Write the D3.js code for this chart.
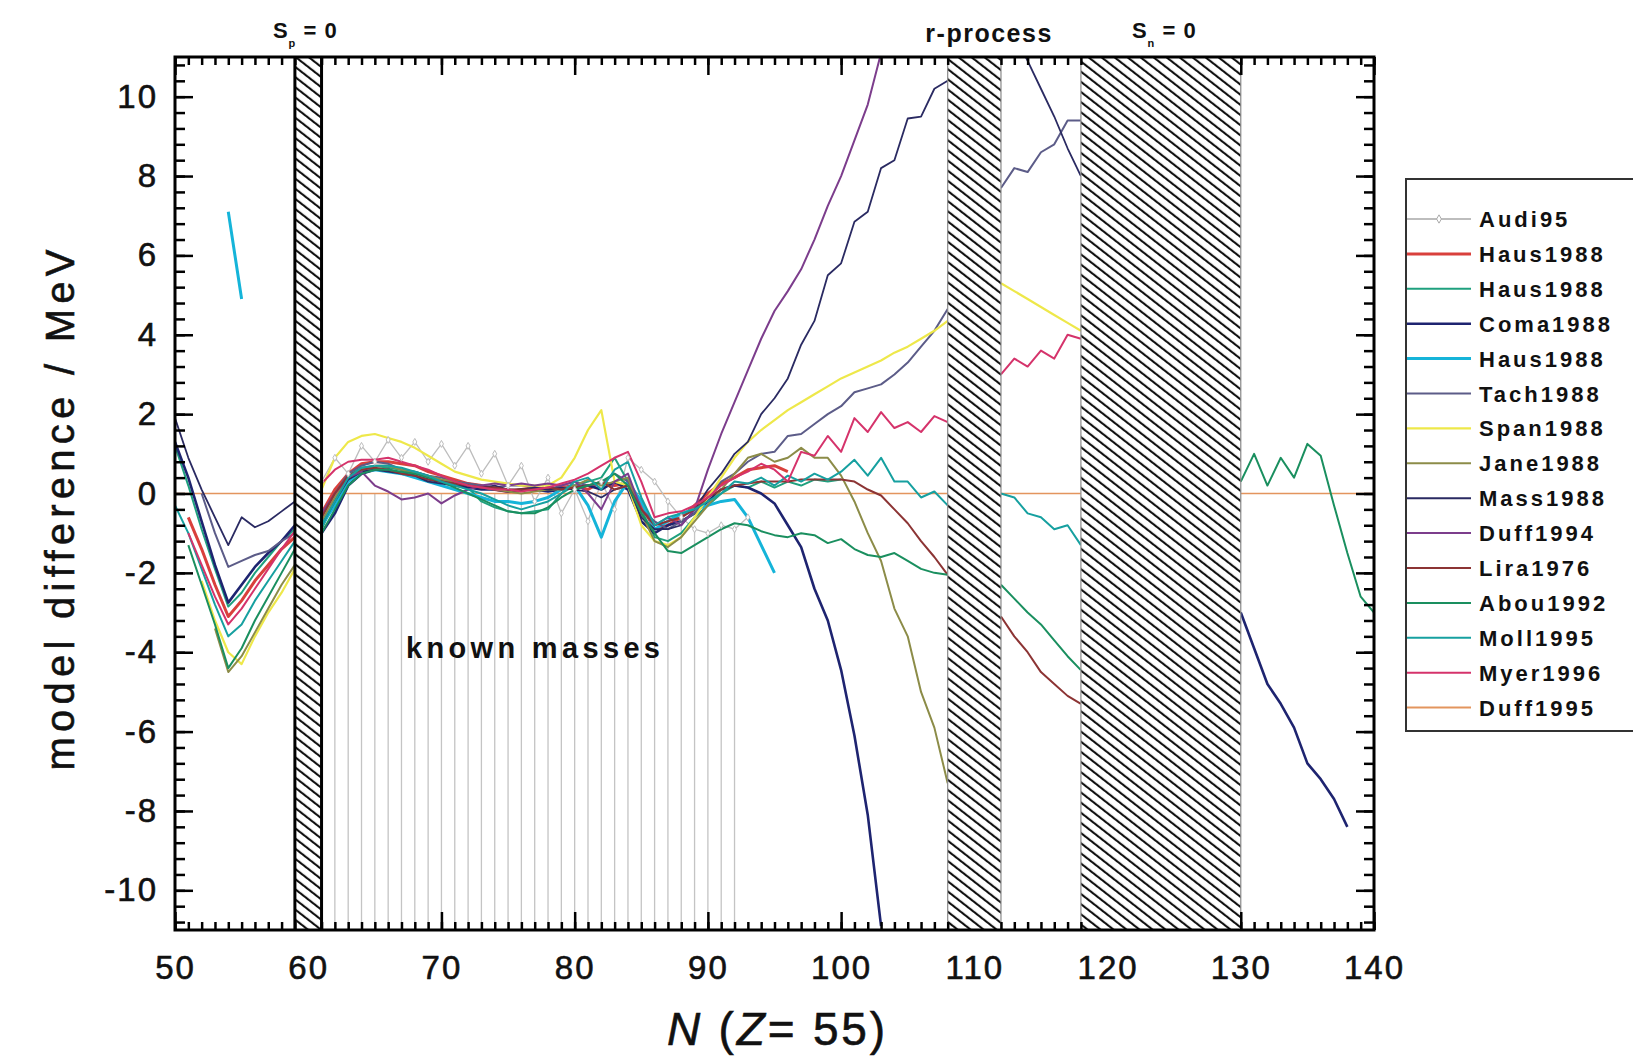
<!DOCTYPE html>
<html>
<head>
	<meta charset="utf-8" />
	<title>Model mass differences, Z = 55</title>
	<script src="https://d3js.org/d3.v7.min.js"></script>
	<style type="text/css">
		body { margin: 0; background: #fff; }
		svg text { font-family: "Liberation Sans", Arial, sans-serif; fill: #111; }
	</style>
</head>
<body>
	<div id="chart"></div>
	<script>
		// tick labels
		const xTicks = [50, 60, 70, 80, 90, 100, 110, 120, 130, 140];
		const yTicks = [-10, -8, -6, -4, -2, 0, 2, 4, 6, 8, 10];

		// N ranges outside the hatched bands, and the bands themselves
		const openRanges = [[50, 59], [61, 108], [112, 118], [130, 140]];
		const hatchRanges = [[59, 61], [108, 112], [118, 130]];

		// nuclei with known masses (drop lines)
		const knownN = [61, 62, 63, 64, 65, 66, 67, 68, 69, 70, 71, 72, 73, 74, 75, 76,
			77, 78, 79, 80, 81, 82, 83, 84, 85, 86, 87, 88, 89, 90, 91, 92];

		// legend
		const names = ["Audi95", "Haus1988", "Haus1988", "Coma1988", "Haus1988", "Tach1988", "Span1988",
			"Jane1988", "Mass1988", "Duff1994", "Lira1976", "Abou1992", "Moll1995", "Myer1996", "Duff1995"];
		const colors = ["#bdbdbd", "#d9403c", "#1fa07e", "#1e2470", "#15b4d9", "#5c5c88", "#eee84a",
			"#8c8c48", "#2a2a62", "#7c3d8c", "#8c3434", "#1a8f5f", "#16a0a0", "#d5336b", "#e3955e"];
		const widths = [1.3, 3, 2, 2.6, 3, 2, 2.2, 2, 1.8, 2, 2, 2, 2, 2, 1.5];

		// each model: segments of [first N, values for N, N+1, ...]  (MeV)
		const audi95 = [[61, [0.3, 0.9, 0.5, 1.2, 0.8, 1.35, 0.9, 1.3, 0.8, 1.25, 0.7, 1.2, 0.5, 1.0, 0.2, 0.7,
			-0.2, 0.4, -0.5, 0.1, -0.7, 0.3, -0.4, 0.9, 0.6, 0.3, -0.2, -0.6, -0.9, -1.0, -0.8, -0.9, -0.6]]];

		const haus88a = [[51, [-0.6, -1.4, -2.3, -3.1, -2.7, -2.2, -1.8, -1.4, -1.1]],
			[61, [-0.5, 0.1, 0.5, 0.75, 0.8, 0.8, 0.75, 0.7, 0.55, 0.45, 0.35, 0.25, 0.2, 0.1, 0.05, 0.1,
				0.15, 0.1, 0.15, 0.2, 0.1, 0.3, 0.2, 0.25, -0.3, -0.9, -0.8, -0.6, -0.3, 0.0, 0.25, 0.4,
				0.6, 0.65, 0.7, 0.55]]];

		const haus88b = [[50, [1.2, 0.2, -0.9, -1.9, -2.85, -2.5, -2.0, -1.6, -1.2, -0.9]],
			[61, [-0.9, -0.2, 0.45, 0.65, 0.7, 0.65, 0.6, 0.55, 0.45, 0.35, 0.25, 0.15, -0.2, -0.35, -0.45, -0.5,
				-0.45, -0.4, 0.0, 0.2, 0.3, 0.4, 0.9, 0.3, -0.4, -1.1, -1.2, -1.0, -0.6, -0.3, 0.0, 0.2,
				0.15, 0.3, 0.15, 0.3, 0.2, 0.35, 0.3, 0.35]]];

		const coma1988 = [[50, [1.3, 0.4, -0.7, -1.8, -2.75, -2.3, -1.85, -1.5, -1.2, -0.8]],
			[61, [-1.0, -0.5, 0.2, 0.5, 0.6, 0.6, 0.5, 0.45, 0.35, 0.3, 0.2, 0.15, 0.1, 0.1, 0.05, 0.1,
				0.1, 0.05, 0.1, 0.15, 0.2, 0.1, 0.3, 0.1, -0.7, -1.0, -0.8, -0.7, -0.5, -0.2, 0.1, 0.2,
				0.15, 0.0, -0.25, -0.8, -1.35, -2.4, -3.2, -4.45, -6.1, -8.1, -10.9]],
			[130, [-3.0, -3.9, -4.8, -5.3, -5.9, -6.8, -7.2, -7.7, -8.4]]];

		const haus88c = [[54, [7.1, 4.9]],
			[61, [-0.8, -0.3, 0.3, 0.55, 0.6, 0.55, 0.5, 0.4, 0.3, 0.2, 0.1, 0.0, -0.1, -0.2, -0.2, -0.25,
				-0.2, -0.1, 0.1, 0.2, -0.3, -1.1, -0.2, 0.3, -0.2, -0.9, -0.7, -0.5, -0.4, -0.3, -0.2, -0.15,
				-0.6, -1.3, -2.0]]];

		const tach1988 = [[52, [0.0, -1.0, -1.85, -1.7, -1.55, -1.45, -1.2, -1.0]],
			[61, [-0.6, 0.0, 0.5, 0.7, 0.8, 0.75, 0.6, 0.55, 0.45, 0.4, 0.3, 0.25, 0.2, 0.15, 0.2, 0.2,
				0.15, 0.1, 0.2, 0.3, 0.2, 0.25, 0.5, 0.3, -0.4, -0.7, -0.9, -0.7, -0.5, -0.1, 0.3, 0.5,
				0.8, 1.0, 1.05, 1.45, 1.5, 1.75, 2.0, 2.2, 2.55, 2.65, 2.75, 3.0, 3.3, 3.7, 4.1, 4.65]],
			[112, [7.7, 8.2, 8.1, 8.6, 8.8, 9.4, 9.4]]];

		const span1988 = [[52, [-2.2, -3.2, -4.0, -4.3, -3.6, -3.0, -2.5, -1.9]],
			[61, [0.1, 0.9, 1.3, 1.45, 1.5, 1.4, 1.3, 1.15, 0.95, 0.75, 0.55, 0.45, 0.35, 0.3, 0.25, 0.2,
				0.2, 0.2, 0.4, 0.9, 1.6, 2.1, 0.3, 0.2, -0.8, -1.2, -1.3, -1.1, -0.6, -0.1, 0.4, 0.9,
				1.3, 1.6, 1.85, 2.1, 2.3, 2.5, 2.7, 2.9, 3.05, 3.2, 3.35, 3.55, 3.7, 3.9, 4.1, 4.35]],
			[112, [5.3, 5.1, 4.9, 4.7, 4.5, 4.3, 4.1]]];

		const jane1988 = [[53, [-3.4, -4.5, -4.1, -3.5, -2.9, -2.3, -1.8]],
			[61, [-0.7, -0.1, 0.4, 0.6, 0.7, 0.7, 0.6, 0.5, 0.45, 0.35, 0.3, 0.2, 0.15, 0.1, 0.05, 0.0,
				0.05, 0.1, 0.1, 0.2, 0.35, 0.2, 0.3, 0.4, -0.5, -1.2, -1.35, -1.1, -0.7, -0.3, 0.1, 0.5,
				0.9, 1.0, 0.8, 0.9, 1.15, 0.9, 0.9, 0.45, -0.2, -1.0, -1.7, -2.9, -3.6, -5.0, -5.9, -7.3]]];

		const mass1988 = [[50, [1.9, 0.9, 0.1, -0.6, -1.3, -0.6, -0.85, -0.7, -0.45, -0.2]],
			[61, [-0.8, -0.2, 0.35, 0.55, 0.6, 0.55, 0.5, 0.45, 0.3, 0.25, 0.2, 0.2, 0.15, 0.2, 0.1, 0.1,
				0.15, 0.1, 0.15, 0.1, 0.05, -0.1, 0.1, 0.2, -0.6, -0.9, -0.9, -0.8, -0.4, 0.1, 0.5, 1.0,
				1.3, 2.0, 2.4, 2.9, 3.75, 4.35, 5.5, 5.8, 6.85, 7.1, 8.2, 8.4, 9.45, 9.5, 10.2, 10.4]],
			[112, [12.4, 11.6, 10.9, 10.2, 9.5, 8.7, 8.0]]];

		const duff1994 = [[61, [-0.5, 0.0, 0.4, 0.55, 0.2, 0.05, -0.15, -0.1, 0.0, -0.25, -0.05, 0.1, 0.2, 0.25, 0.2, 0.25,
			0.2, 0.25, 0.2, 0.3, 0.0, -0.4, 0.3, 0.5, -0.4, -0.8, -0.6, -0.8, -0.4, 0.6, 1.5, 2.3,
			3.1, 3.9, 4.6, 5.1, 5.65, 6.4, 7.25, 8.0, 8.9, 9.8, 11.1]]];

		const lira1976 = [[61, [-0.6, 0.0, 0.45, 0.6, 0.65, 0.6, 0.5, 0.45, 0.35, 0.3, 0.25, 0.2, 0.15, 0.15, 0.1, 0.1,
			0.1, 0.15, 0.1, 0.15, 0.2, 0.3, 0.1, 0.2, -0.4, -0.8, -0.7, -0.6, -0.4, -0.1, 0.1, 0.2,
			0.25, 0.3, 0.3, 0.3, 0.35, 0.35, 0.35, 0.35, 0.3, 0.1, -0.05, -0.4, -0.75, -1.2, -1.6, -2.05]],
			[112, [-3.1, -3.6, -4.0, -4.5, -4.8, -5.1, -5.3]]];

		const abou1992 = [[51, [-1.3, -2.3, -3.3, -4.4, -3.9, -3.2, -2.6, -2.0, -1.4]],
			[61, [-1.0, -0.4, 0.2, 0.5, 0.6, 0.6, 0.55, 0.5, 0.4, 0.3, 0.15, 0.0, -0.15, -0.3, -0.45, -0.5,
				-0.5, -0.35, -0.1, 0.1, 0.2, 0.3, 0.5, 0.2, -0.5, -1.0, -1.45, -1.5, -1.3, -1.1, -0.9, -0.75,
				-0.8, -0.95, -1.05, -1.1, -1.0, -1.05, -1.25, -1.15, -1.4, -1.55, -1.6, -1.5, -1.7, -1.9, -2.0, -2.05]],
			[112, [-2.3, -2.65, -3.0, -3.3, -3.7, -4.1, -4.45]],
			[130, [0.3, 1.0, 0.2, 0.9, 0.4, 1.25, 0.95, -0.3, -1.5, -2.6, -3.0]]];

		const moll1995 = [[50, [-0.3, -1.0, -1.9, -2.8, -3.6, -3.3, -2.7, -2.2, -1.7, -1.2]],
			[61, [-0.8, -0.2, 0.4, 0.65, 0.7, 0.7, 0.65, 0.55, 0.45, 0.3, 0.2, 0.1, 0.0, -0.15, -0.3, -0.4,
				-0.3, -0.2, 0.0, 0.3, 0.4, 0.1, 0.6, 0.8, -0.1, -0.8, -0.6, -0.5, -0.4, -0.2, 0.0, 0.3,
				0.25, 0.4, 0.2, 0.45, 0.3, 0.5, 0.35, 0.55, 0.85, 0.45, 0.9, 0.3, 0.3, -0.1, 0.05, -0.3]],
			[112, [0.0, -0.1, -0.5, -0.6, -0.9, -0.8, -1.3]]];

		const myer1996 = [[51, [-1.0, -1.8, -2.6, -3.3, -2.9, -2.4, -1.9, -1.4, -0.95]],
			[61, [0.25, 0.6, 0.8, 0.85, 0.85, 0.9, 0.8, 0.7, 0.6, 0.45, 0.3, 0.2, 0.15, 0.1, 0.1, 0.05,
				0.1, 0.15, 0.25, 0.35, 0.5, 0.7, 0.9, 1.05, 0.3, -0.6, -0.5, -0.45, -0.3, -0.1, 0.2, 0.4,
				0.55, 0.75, 0.6, 0.3, 1.05, 0.95, 1.45, 1.05, 1.9, 1.55, 2.05, 1.65, 1.8, 1.55, 1.95, 1.8]],
			[112, [3.0, 3.4, 3.2, 3.6, 3.4, 4.0, 3.9]]];

		// reference model: zero line in every open range
		const duff1995 = [[50, 0], [59, 0], null, [61, 0], [108, 0], null, [112, 0], [118, 0], null, [130, 0], [140, 0]];

		const models = [audi95, haus88a, haus88b, coma1988, haus88c, tach1988, span1988,
			jane1988, mass1988, duff1994, lira1976, abou1992, moll1995, myer1996];

		const width = 1633;
		const height = 1063;

		const x = d3.scaleLinear().domain([50, 140]).range([175, 1374]);
		const y = d3.scaleLinear().domain([-11, 11]).range([930, 57]);

		const svg = d3.select("#chart")
			.append("svg")
			.attr("width", width)
			.attr("height", height);

		const defs = svg.append("defs");
		defs.append("clipPath").attr("id", "plot")
			.append("rect")
			.attr("x", x(50)).attr("y", y(11))
			.attr("width", x(140) - x(50)).attr("height", y(-11) - y(11));

		const hatch = defs.append("pattern")
			.attr("id", "hatch")
			.attr("patternUnits", "userSpaceOnUse")
			.attr("width", 8).attr("height", 8)
			.attr("patternTransform", "rotate(-52)");
		hatch.append("rect").attr("width", 8).attr("height", 8).attr("fill", "#fff");
		hatch.append("line")
			.attr("x1", 1).attr("y1", 0).attr("x2", 1).attr("y2", 8)
			.attr("stroke", "#111").attr("stroke-width", 2.2);

		// segments -> points, null breaks the line
		const toPoints = (segs) => segs.flatMap(([n0, vals], k) =>
			(k ? [null] : []).concat(vals.map((v, i) => [n0 + i, v])));

		const line = d3.line()
			.defined(d => d !== null)
			.x(d => x(d[0]))
			.y(d => y(d[1]));

		const plot = svg.append("g").attr("clip-path", "url(#plot)");

		// drop lines for known masses, from the Audi95 value (or zero) to the bottom
		const audiPts = toPoints(audi95);
		plot.append("g")
			.selectAll("line")
			.data(knownN)
			.enter()
			.append("line")
			.attr("x1", d => x(d)).attr("x2", d => x(d))
			.attr("y1", d => y(Math.min(0, audiPts.find(p => p[0] === d)[1])))
			.attr("y2", y(-11))
			.attr("stroke", "#c4c4c4")
			.attr("stroke-width", 1.3);

		plot.append("path")
			.attr("d", line(duff1995))
			.attr("fill", "none")
			.attr("stroke", colors[14])
			.attr("stroke-width", widths[14]);

		models.forEach((m, i) => {
			plot.append("path")
				.attr("d", line(toPoints(m)))
				.attr("fill", "none")
				.attr("stroke", colors[i])
				.attr("stroke-width", widths[i])
				.attr("stroke-linejoin", "round");
		});

		// Audi95 markers
		plot.append("g")
			.selectAll("path")
			.data(audiPts.filter(d => d !== null))
			.enter()
			.append("path")
			.attr("d", d3.symbol(d3.symbolDiamond, 14))
			.attr("transform", d => `translate(${x(d[0])},${y(d[1])})`)
			.attr("fill", "#fff")
			.attr("stroke", "#bdbdbd")
			.attr("stroke-width", 1);

		// hatched bands
		svg.append("g")
			.selectAll("rect")
			.data(hatchRanges)
			.enter()
			.append("rect")
			.attr("x", d => x(d[0]))
			.attr("y", y(11))
			.attr("width", d => x(d[1]) - x(d[0]))
			.attr("height", y(-11) - y(11))
			.attr("fill", "url(#hatch)");

		hatchRanges.forEach((r, i) => {
			r.forEach(n => {
				svg.append("line")
					.attr("x1", x(n)).attr("x2", x(n))
					.attr("y1", y(11)).attr("y2", y(-11))
					.attr("stroke", i === 0 ? "#000" : "#888")
					.attr("stroke-width", i === 0 ? 3 : 1.2);
			});
		});

		// frame
		svg.append("rect")
			.attr("x", x(50)).attr("y", y(11))
			.attr("width", x(140) - x(50)).attr("height", y(-11) - y(11))
			.attr("fill", "none")
			.attr("stroke", "#000")
			.attr("stroke-width", 3);

		// inward ticks, skipped inside the hatched bands
		const isOpen = n => openRanges.some(([a, b]) => n >= a && n <= b);
		const minorX = d3.range(50, 141).filter(isOpen);
		const majorX = xTicks.filter(isOpen);
		const minorY = d3.range(-27, 28).map(i => +(i * 0.4).toFixed(1));

		const tickAxis = (axis, values, size, tx, ty) => {
			const g = svg.append("g")
				.attr("transform", `translate(${tx},${ty})`)
				.call(axis.tickValues(values).tickSize(size).tickFormat(""));
			g.select(".domain").remove();
			g.selectAll(".tick line").attr("stroke", "#000").attr("stroke-width", 2.5);
		};
		tickAxis(d3.axisBottom(x), minorX, -8, 0, y(-11));
		tickAxis(d3.axisBottom(x), majorX, -18, 0, y(-11));
		tickAxis(d3.axisTop(x), minorX, -8, 0, y(11));
		tickAxis(d3.axisTop(x), majorX, -18, 0, y(11));
		tickAxis(d3.axisLeft(y), minorY, -10, x(50), 0);
		tickAxis(d3.axisLeft(y), yTicks, -18, x(50), 0);
		tickAxis(d3.axisRight(y), minorY, -10, x(140), 0);
		tickAxis(d3.axisRight(y), yTicks, -18, x(140), 0);

		const heavy = sel => sel
			.attr("font-family", "Liberation Sans, Arial, sans-serif")
			.attr("fill", "#111")
			.attr("stroke", "#111")
			.attr("stroke-width", 0.6);

		// tick labels (plain hyphen for negatives)
		const xLab = svg.append("g")
			.attr("transform", `translate(0,${y(-11)})`)
			.call(d3.axisBottom(x).tickValues(xTicks).tickSize(0).tickPadding(26).tickFormat(d => String(d)));
		xLab.select(".domain").remove();
		xLab.selectAll("text")
			.attr("font-size", 33)
			.attr("letter-spacing", 2)
			.call(heavy);

		const yLab = svg.append("g")
			.attr("transform", `translate(${x(50)},0)`)
			.call(d3.axisLeft(y).tickValues(yTicks).tickSize(0).tickPadding(17).tickFormat(d => String(d)));
		yLab.select(".domain").remove();
		yLab.selectAll("text")
			.attr("font-size", 33)
			.attr("letter-spacing", 2)
			.call(heavy);

		// axis titles
		svg.append("text")
			.attr("transform", "translate(74,510) rotate(-90)")
			.attr("text-anchor", "middle")
			.attr("font-size", 40)
			.attr("textLength", 521)
			.attr("lengthAdjust", "spacing")
			.call(heavy)
			.text("model difference / MeV");

		const xt = svg.append("text")
			.attr("x", 776).attr("y", 1045)
			.attr("text-anchor", "middle")
			.attr("font-size", 46)
			.attr("textLength", 218)
			.attr("lengthAdjust", "spacing")
			.call(heavy);
		xt.append("tspan").attr("font-style", "italic").text("N");
		xt.append("tspan").text(" (");
		xt.append("tspan").attr("font-style", "italic").text("Z");
		xt.append("tspan").text("= 55)");

		// band labels
		const sLabel = (x0, sub) => {
			const t = svg.append("text")
				.attr("x", x0).attr("y", 38)
				.attr("font-size", 22)
				.attr("font-weight", "bold")
				.attr("letter-spacing", 1);
			t.append("tspan").text("S");
			t.append("tspan").attr("font-size", 11).attr("dy", 9).text(sub);
			t.append("tspan").attr("dy", -9).text(" = 0");
		};
		sLabel(x(59) - 22, "p");
		sLabel(x(118) + 51, "n");

		svg.append("text")
			.attr("x", x(110) + 14).attr("y", 42)
			.attr("text-anchor", "middle")
			.attr("font-size", 25)
			.attr("font-weight", "bold")
			.attr("textLength", 126)
			.attr("lengthAdjust", "spacing")
			.text("r-process");

		svg.append("text")
			.attr("x", 533).attr("y", 658)
			.attr("text-anchor", "middle")
			.attr("font-size", 29)
			.attr("font-weight", "bold")
			.attr("textLength", 254)
			.attr("lengthAdjust", "spacing")
			.text("known masses");

		// legend
		const legend = svg.append("g");
		legend.append("rect")
			.attr("x", 1406).attr("y", 179)
			.attr("width", 260).attr("height", 552)
			.attr("fill", "#fff")
			.attr("stroke", "#333")
			.attr("stroke-width", 2);

		const rows = legend.selectAll("g.row")
			.data(names)
			.enter()
			.append("g")
			.attr("class", "row")
			.attr("transform", (d, i) => `translate(0,${219 + i * 34.9})`);
		rows.append("line")
			.attr("x1", 1407).attr("x2", 1471)
			.attr("stroke", (d, i) => colors[i])
			.attr("stroke-width", (d, i) => Math.max(widths[i], 2));
		rows.append("text")
			.attr("x", 1479).attr("y", 8)
			.attr("font-size", 22)
			.attr("font-weight", "bold")
			.attr("letter-spacing", 3)
			.text(d => d);
		legend.append("path")
			.attr("d", d3.symbol(d3.symbolDiamond, 20))
			.attr("transform", "translate(1439,219)")
			.attr("fill", "#fff")
			.attr("stroke", "#aaa");
	</script>
</body>
</html>
